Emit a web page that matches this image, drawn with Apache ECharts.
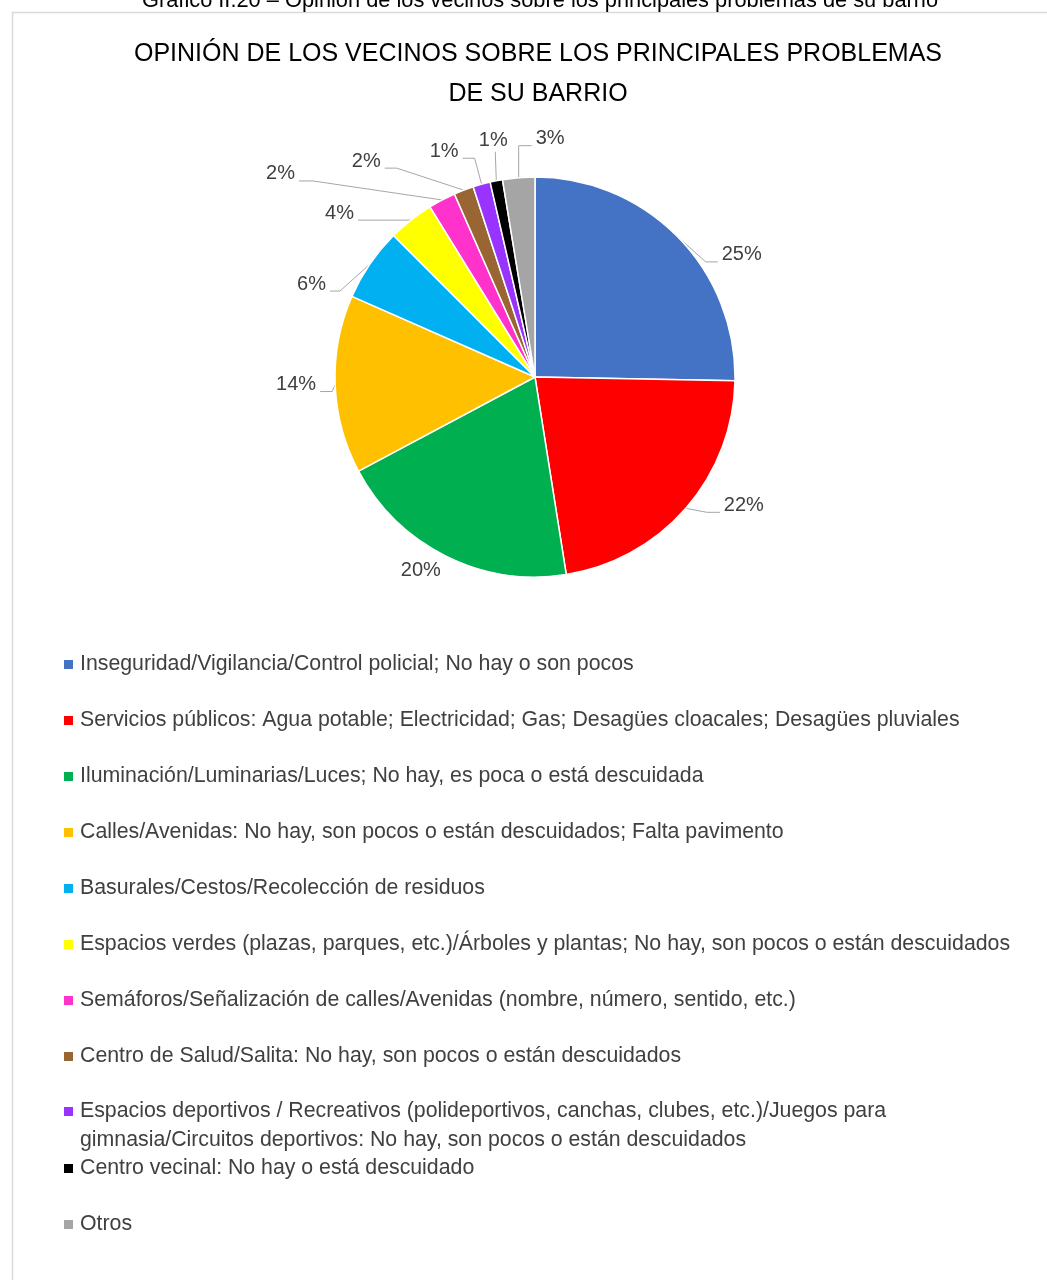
<!DOCTYPE html>
<html><head><meta charset="utf-8">
<script src="https://cdn.jsdelivr.net/npm/echarts@6/dist/echarts.min.js"></script>
<style>html,body{margin:0;padding:0;background:#fff}#c{width:1047px;height:1280px}</style>
</head><body><div id="c"></div>
<script>
const categories = [
  "Inseguridad/Vigilancia/Control policial; No hay o son pocos",
  "Servicios públicos: Agua potable; Electricidad; Gas; Desagües cloacales; Desagües pluviales",
  "Iluminación/Luminarias/Luces; No hay, es poca o está descuidada",
  "Calles/Avenidas: No hay, son pocos o están descuidados; Falta pavimento",
  "Basurales/Cestos/Recolección de residuos",
  "Espacios verdes (plazas, parques, etc.)/Árboles y plantas; No hay, son pocos o están descuidados",
  "Semáforos/Señalización de calles/Avenidas (nombre, número, sentido, etc.)",
  "Centro de Salud/Salita: No hay, son pocos o están descuidados",
  "Espacios deportivos / Recreativos (polideportivos, canchas, clubes, etc.)/Juegos para gimnasia/Circuitos deportivos: No hay, son pocos o están descuidados",
  "Centro vecinal: No hay o está descuidado",
  "Otros"
];
const values = [25.3, 22.2, 19.7, 14.4, 5.9, 3.7, 2.2, 1.6, 1.4, 1.0, 2.6];
const colors = ["#4472C4","#FF0000","#00B050","#FFC000","#00B0F0","#FFFF00","#FF33CC","#996633","#9933FF","#000000","#A5A5A5"];

// leader-line styling (elbow offset from the slice edge point, horizontal run)
const leaderStyle = [
  { ex: 28, ey: 25, h: 12 },
  { ex: 21, ey: 4, h: 13 },
  { ex: -25, ey: 14, h: 0, line: false },
  { ex: -3, ey: 7, h: -12 },
  { ex: -30, ey: 27, h: -10 },
  { ex: -2, ey: 0, h: -51 },
  { ex: -129, ey: -19, h: -14 },
  { ex: -67, ey: -22, h: -12 },
  { ex: -7, ey: -26, h: -12 },
  { ex: -1, ey: -29, h: 0 },
  { ex: 0, ey: -32, h: 13 }
];

const FONT = "'Liberation Sans', Arial, sans-serif";
const chart = echarts.init(document.getElementById('c'));
const legends = categories.map((name, i) => {
  const wrap = i === 8;
  return {
    orient: 'vertical',
    left: 57,
    top: 645 + i * 56 + (wrap ? -30 : 0),
    data: [name],
    icon: 'rect',
    itemWidth: 11,
    itemHeight: 11,
    itemGap: 0,
    selectedMode: false,
    formatter: wrap ? (n => '\n' + n) : (n => n),
    textStyle: Object.assign({ fontFamily: FONT, fontSize: 21.3, color: '#404040', lineHeight: 29, padding: [0,0,0,1] },
      wrap ? { width: 850, overflow: 'break' } : {})
  };
});

chart.setOption({
  animation: false,
  title: [
    { text: 'Gráfico II.20 – Opinión de los vecinos sobre los principales problemas de su barrio', left: 535, textAlign: 'center', top: -15,
      textStyle: { fontFamily: FONT, fontSize: 21.8, fontWeight: 'normal', color: '#000' } },
    { text: 'OPINIÓN DE LOS VECINOS SOBRE LOS PRINCIPALES PROBLEMAS\nDE SU BARRIO', left: 533, textAlign: 'center', top: 29,
      textStyle: { fontFamily: FONT, fontSize: 25, fontWeight: 'normal', color: '#000', lineHeight: 40 } }
  ],
  graphic: [{ type: 'rect', shape: { x: 12.5, y: 12.5, width: 1100, height: 1400 }, style: { fill: 'none', stroke: '#d9d9d9', lineWidth: 1.5 }, silent: true, z: -1 }],
  legend: legends,
  series: [{
    type: 'pie',
    center: [535, 377],
    radius: 200,
    startAngle: 90,
    clockwise: true,
    avoidLabelOverlap: false,
    data: categories.map((n, i) => ({ name: n, value: values[i], itemStyle: { color: colors[i] } })),
    itemStyle: { borderColor: '#fff', borderWidth: 1.5 },
    label: { show: true, fontFamily: FONT, fontSize: 20, color: '#404040',
      formatter: p => Math.round(p.percent) + '%' },
    labelLine: { show: true, length: 10, length2: 10, smooth: false, lineStyle: { color: '#a6a6a6', width: 1 } },
    labelLayout: function (params) {
      const s = leaderStyle[params.dataIndex];
      const pts = params.labelLinePoints;
      if (!pts) return {};
      const E = pts[0];
      const elbow = [E[0] + s.ex, E[1] + s.ey];
      const end = [elbow[0] + s.h, elbow[1]];
      if (s.line === false) {
        return { x: elbow[0], y: elbow[1], align: 'center', verticalAlign: 'middle', labelLinePoints: [E, E, E] };
      }
      if (s.h === 0) {
        return { x: end[0] - 2, y: end[1] - 11, align: 'center', verticalAlign: 'middle', labelLinePoints: [E, elbow, end] };
      }
      return {
        x: end[0] + (s.h > 0 ? 4 : -4),
        y: end[1] - 7,
        align: s.h > 0 ? 'left' : 'right',
        verticalAlign: 'middle',
        labelLinePoints: [E, elbow, end]
      };
    },
    emphasis: { disabled: true }
  }]
});
</script></body></html>
